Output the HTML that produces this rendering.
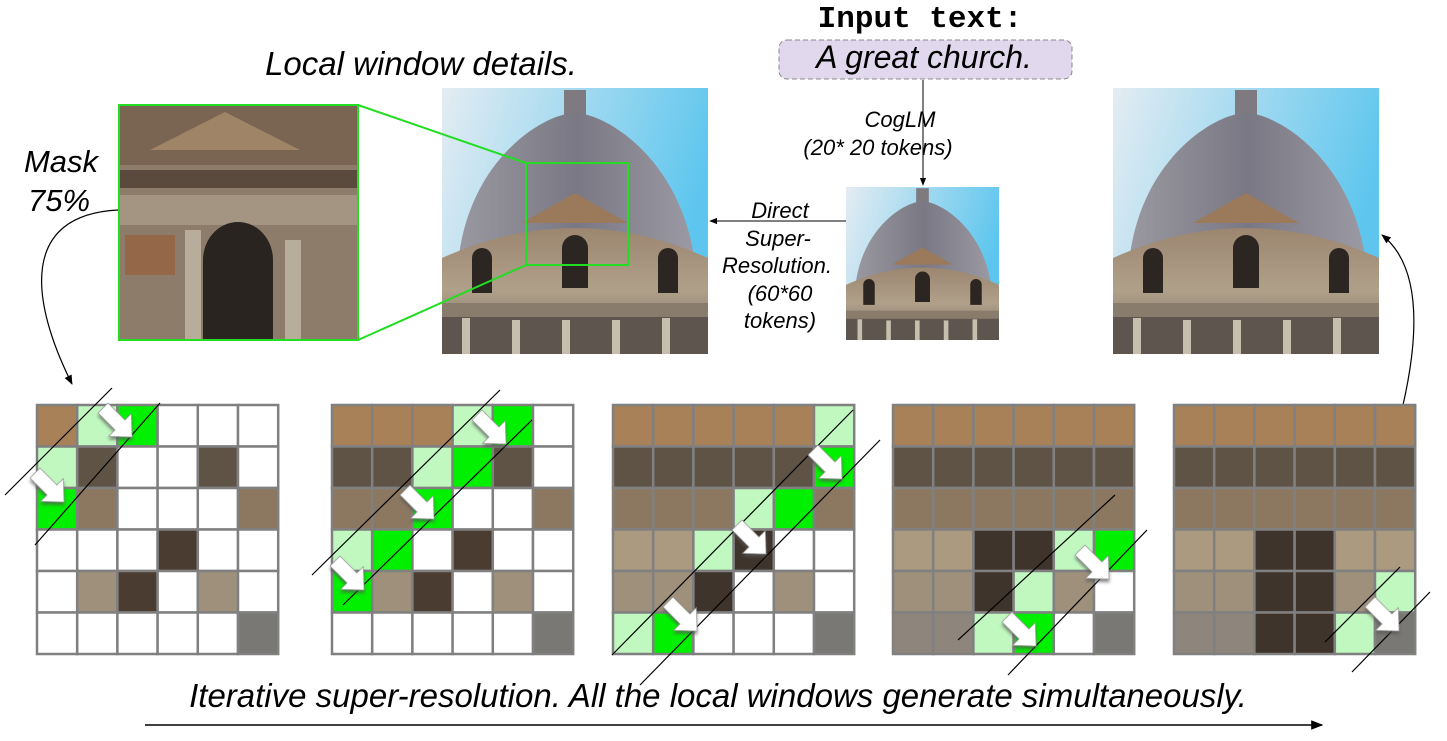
<!DOCTYPE html>
<html><head><meta charset="utf-8"><style>
html,body{margin:0;padding:0;background:#fff;}
svg{display:block;}
text{font-family:"Liberation Sans",Arial,sans-serif;}
text.mono{font-family:"Liberation Mono","DejaVu Sans Mono",monospace;}
</style></head><body>
<svg id="s" width="1447" height="741" viewBox="0 0 1447 741" xmlns="http://www.w3.org/2000/svg">
<defs>
<linearGradient id="sky" x1="0" y1="0" x2="1" y2="0.3"><stop offset="0" stop-color="#e4ecf2"/><stop offset="1" stop-color="#5ec6ee"/></linearGradient>
<linearGradient id="dome" x1="0" y1="0" x2="1" y2="0"><stop offset="0" stop-color="#9a98a0"/><stop offset="0.5" stop-color="#7a7884"/><stop offset="1" stop-color="#9c9aa4"/></linearGradient>
<linearGradient id="body" x1="0" y1="0" x2="0" y2="1"><stop offset="0" stop-color="#9c8670"/><stop offset="0.5" stop-color="#b0a08a"/><stop offset="1" stop-color="#6e6458"/></linearGradient>
<symbol id="church" viewBox="0 0 266 266">
<rect width="266" height="266" fill="url(#sky)"/>
<rect x="122" y="2" width="22" height="25" fill="#7e7a80"/>
<path d="M15,210 C10,80 100,25 133,25 C166,25 256,80 255,210 Z" fill="url(#dome)"/>
<path d="M0,170 Q133,110 266,170 L266,266 L0,266 Z" fill="url(#body)"/>
<path d="M80,135 L133,105 L186,135 Z" fill="#9a7a5a"/>
<rect x="0" y="215" width="266" height="14" fill="#8a7c6c"/>
<rect x="0" y="229" width="266" height="37" fill="#5e564e"/>
<g fill="#2c2622">
<path d="M120,200 v-40 a13,13 0 0 1 26,0 v40z"/>
<path d="M30,205 v-35 a10,10 0 0 1 20,0 v35z"/>
<path d="M216,205 v-35 a10,10 0 0 1 20,0 v35z"/>
</g>
<g fill="#c8beae"><rect x="20" y="230" width="8" height="36"/><rect x="70" y="232" width="8" height="34"/><rect x="120" y="232" width="8" height="34"/><rect x="170" y="232" width="8" height="34"/><rect x="220" y="230" width="8" height="36"/></g>
</symbol>
<marker id="ah" viewBox="0 0 10 10" refX="9" refY="5" markerWidth="8" markerHeight="8" orient="auto"><path d="M0,1 L10,5 L0,9 Z" fill="#000"/></marker>
<filter id="sh" x="-30%" y="-30%" width="160%" height="160%"><feDropShadow dx="2" dy="2" stdDeviation="1.5" flood-color="#555" flood-opacity="0.7"/></filter>
</defs>

<text class="mono" x="920" y="27" font-weight="bold" font-size="31" text-anchor="middle">Input text:</text>
<rect x="779" y="40" width="293" height="39" rx="8" fill="#e1d8ed" stroke="#888" stroke-dasharray="5,3"/>
<text x="924" y="68" font-style="italic" font-size="32" text-anchor="middle">A great church.</text>
<text x="421" y="75" font-style="italic" font-size="33" text-anchor="middle">Local window details.</text>
<text x="61" y="172" font-style="italic" font-size="31" text-anchor="middle">Mask</text>
<text x="59" y="211" font-style="italic" font-size="31" text-anchor="middle">75%</text>
<text x="900" y="127" font-style="italic" font-size="22" text-anchor="middle">CogLM</text>
<text x="878" y="155" font-style="italic" font-size="22" text-anchor="middle">(20* 20 tokens)</text>
<g font-style="italic" font-size="22" text-anchor="middle">
<text x="780" y="218">Direct</text>
<text x="778" y="246">Super-</text>
<text x="777" y="273">Resolution.</text>
<text x="780" y="301">(60*60</text>
<text x="780" y="328">tokens)</text>
</g>

<use href="#church" x="442" y="88" width="266" height="266"/>
<use href="#church" x="846" y="187" width="153" height="153"/>
<use href="#church" x="1113" y="88" width="266" height="266"/>

<g>
<rect x="119" y="105" width="239" height="235" fill="#8e7c6a"/>
<rect x="119" y="105" width="239" height="60" fill="#7a6452"/>
<path d="M150,150 L225,112 L300,150Z" fill="#a08468"/>
<rect x="119" y="170" width="239" height="18" fill="#5a4a3e"/>
<rect x="119" y="195" width="239" height="30" fill="#a49482"/>
<path d="M203,340 v-80 a35,38 0 0 1 70,0 v80z" fill="#2a2420"/>
<rect x="125" y="235" width="50" height="40" fill="#9a5a34" opacity="0.6"/>
<rect x="185" y="230" width="16" height="110" fill="#b8ac9a"/>
<rect x="285" y="240" width="16" height="100" fill="#b8ac9a"/>
<rect x="119" y="105" width="239" height="235" fill="none" stroke="#22dd22" stroke-width="2"/>
</g>
<rect x="526" y="163" width="102" height="102" fill="none" stroke="#22dd22" stroke-width="2"/>
<line x1="358" y1="105" x2="526" y2="163" stroke="#22dd22" stroke-width="2"/>
<line x1="358" y1="340" x2="526" y2="265" stroke="#22dd22" stroke-width="2"/>

<line x1="923" y1="80" x2="923" y2="185" stroke="#000" marker-end="url(#ah)"/>
<line x1="846" y1="221" x2="710" y2="221" stroke="#000" marker-end="url(#ah)"/>
<path d="M118,210 C20,215 30,300 72,384" fill="none" stroke="#000" stroke-width="1.2" marker-end="url(#ah)"/>
<path d="M1403,405 C1420,330 1420,265 1382,235" fill="none" stroke="#000" stroke-width="1.2" marker-end="url(#ah)"/>
<line x1="145" y1="725" x2="1322" y2="725" stroke="#000" stroke-width="1.5" marker-end="url(#ah)"/>
<text x="718" y="707" font-style="italic" font-size="33" text-anchor="middle">Iterative super-resolution. All the local windows generate simultaneously.</text>

<g id="grids"></g>
<g id="over"></g>
</svg>
<script>
var grids=[
{x:37,p:["PLGWWW","LPWWPW","GPWWWP","WWWPWW","WPPWPW","WWWWWP"]},
{x:332,p:["PPPLGW","PPLGPW","PPGWWP","LGWPWW","GPPWPW","WWWWWP"]},
{x:613,p:["PPPPPL","PPPPPG","PPPLGP","PPLPWW","PPPWPW","LGWWWP"]},
{x:893,p:["PPPPPP","PPPPPP","PPPPPP","PPPPLG","PPPLPW","PPLGWP"]},
{x:1174,p:["PPPPPP","PPPPPP","PPPPPP","PPPPPP","PPPPPL","PPPPLP"]}];
var rowc=["#a98158","#5f5346","#8c7860","#ab9a80","#9e907a","#8e867c"];
var dark={"3,2":1,"3,3":1,"4,2":1,"4,3":1,"5,2":1,"5,3":1};
var NS="http://www.w3.org/2000/svg",G=document.getElementById("grids");
function el(n,a,par){var e=document.createElementNS(NS,n);for(var k in a)e.setAttribute(k,a[k]);(par||G).appendChild(e);return e;}
var cw=40.2,ch=41.5,y0=405;
grids.forEach(function(g,gi){
 for(var r=0;r<6;r++)for(var c=0;c<6;c++){
  var t=g.p[r][c],f="#fff";
  if(t=="L")f="#c0f8c0";else if(t=="G")f="#00f000";
  else if(t=="P"){f=rowc[r];if(gi>=2&&dark[r+","+c])f="#3e342c";if(gi<2&&((r==3&&c==3)||(r==4&&c==2)))f="#4a3c30";if(r==5&&c==5)f="#7a7874";}
  el("rect",{x:g.x+c*cw,y:y0+r*ch,width:cw,height:ch,fill:f,stroke:"#808080","stroke-width":2.5});
 }
});
var O=document.getElementById("over");
var lines=[[5,495,112,388],[35,545,160,403],[312,575,500,390],[343,605,532,420],[612,655,853,410],[640,685,880,440],[958,640,1115,495],[1008,675,1147,530],[1325,642,1400,567],[1352,672,1430,592]];
lines.forEach(function(l){el("line",{x1:l[0],y1:l[1],x2:l[2],y2:l[3],stroke:"#000","stroke-width":1.2},O);});
var arr=[[120,425],[52,490],[494,432],[422,507],[352,578],[830,467],[754,542],[685,619],[1097,567],[1024,634],[1387,619]];
arr.forEach(function(a){el("polygon",{points:"-24,-7 0,-7 0,-16 17,0 0,16 0,7 -24,7",fill:"#fff",stroke:"#999","stroke-width":0.8,filter:"url(#sh)",transform:"translate("+a[0]+","+a[1]+") rotate(45)"},O);});
</script>
</body></html>
